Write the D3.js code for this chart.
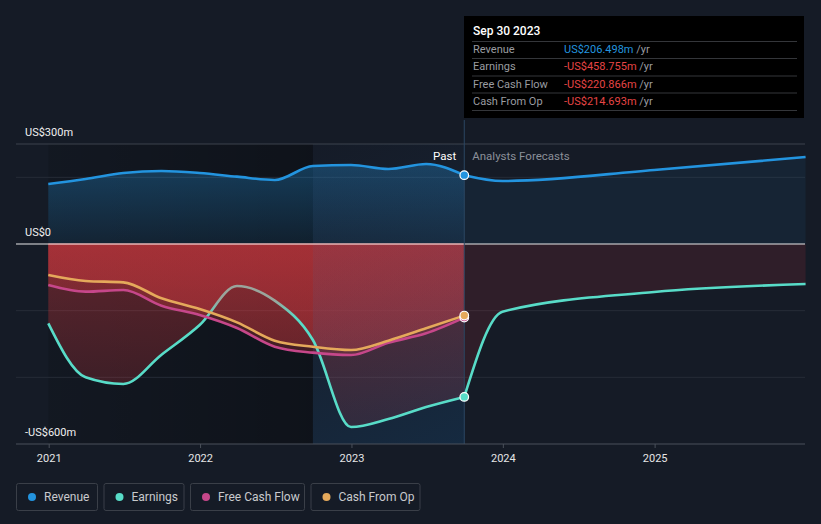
<!DOCTYPE html>
<html><head><meta charset="utf-8">
<script src="https://cdn.jsdelivr.net/npm/d3@7"></script>
<style>
html,body{margin:0;padding:0;background:#151b26;}
svg{display:block;font-family:Roboto,"Noto Sans",sans-serif;}
</style></head>
<body>
<svg id="c" width="821" height="524"></svg>
<script>
// ---- data ----
const pastDates = ["2020-12-31","2021-03-31","2021-06-30","2021-09-30","2021-12-31","2022-03-31","2022-06-30","2022-09-30","2022-12-31","2023-03-31","2023-06-30","2023-09-30"];
const revenuePast  = [180, 195, 213, 219, 213, 202, 192, 234, 237, 225, 240, 206.498];
const earningsPast = [-238, -400, -420, -332, -243, -126, -170, -288, -549, -525, -489, -458.755];
const fcfPast      = [-123, -143, -138, -185, -213, -252, -308, -326, -333, -296, -268, -220.866];
const cfoPast      = [-93, -111, -115, -163, -195, -235, -290, -308, -318, -290, -253, -214.693];
const fcDates = ["2023-09-30","2023-12-31","2024-12-31","2025-12-31"];
const revenueFc  = [206.498, 189, 222, 261];
const earningsFc = [-458.755, -203, -144, -120];
const yTickLabels = [{v:300,t:"US$300m"},{v:0,t:"US$0"},{v:-600,t:"-US$600m"}];
const gridValues = [300, 200, -200, -400];
const xTickYears = [2021, 2022, 2023, 2024, 2025];
const legendItems = [{n:"Revenue",c:"#2394df"},{n:"Earnings",c:"#58dcc8"},{n:"Free Cash Flow",c:"#c6478a"},{n:"Cash From Op",c:"#e5a95b"}];
const tooltipRows = [
  {l:"Revenue", v:"US$206.498m", c:"#2394df"},
  {l:"Earnings", v:"-US$458.755m", c:"#e64545"},
  {l:"Free Cash Flow", v:"-US$220.866m", c:"#e64545"},
  {l:"Cash From Op", v:"-US$214.693m", c:"#e64545"}
];
const highlightStart = "2022-09-30";
const nowDate = "2023-09-30";

// ---- setup ----
const parse = d3.timeParse("%Y-%m-%d");
const svg = d3.select("#c");
const L = 16, R = 805, T = 144, B = 444;
const x = d3.scaleTime().domain([new Date(2021,0,1), new Date(2026,0,1)]).range([48.7, 806]);
const y = d3.scaleLinear().domain([-600, 300]).range([B, T]);
const pd = pastDates.map(parse), fd = fcDates.map(parse);
const xNow = x(parse(nowDate)), xHi = x(parse(highlightStart)), x0 = x(pd[0]);

const defs = svg.append("defs");
function lg(id, x1,y1,x2,y2, stops){
  const g = defs.append("linearGradient").attr("id",id).attr("gradientUnits","userSpaceOnUse")
    .attr("x1",x1).attr("y1",y1).attr("x2",x2).attr("y2",y2);
  stops.forEach(s=>g.append("stop").attr("offset",s[0]).attr("stop-color",s[1]).attr("stop-opacity",s[2]));
}
lg("pastBg", x0,0,xHi,0, [[0,"#000",0.12],[1,"#000",0.32]]);
lg("band", xHi,T,xNow,B, [[0,"#3a5a80",0.05],[1,"#1e6aa8",0.22]]);
lg("redA", 0,y(0),0,B, [[0,"#c8373d",0.42],[1,"#c8373d",0.16]]);
lg("revA", 0,y(240),0,y(0), [[0,"#2394df",0.32],[1,"#2394df",0.1]]);
lg("earnStroke", 0,300,0,318, [[0,"#9aa59c",1],[1,"#58dcc8",1]]);

// backgrounds
svg.append("rect").attr("x",x0).attr("y",T).attr("width",xHi-x0).attr("height",B-T).attr("fill","url(#pastBg)");
svg.append("rect").attr("x",xHi).attr("y",T).attr("width",xNow-xHi).attr("height",B-T).attr("fill","#000").attr("opacity",0.08);

// gridlines
gridValues.forEach(v=>{
  svg.append("line").attr("x1",L).attr("x2",R).attr("y1",y(v)).attr("y2",y(v))
    .attr("stroke", v===300 ? "#3d424c" : "#262c37").attr("stroke-width",1);
});

const curve = d3.curveMonotoneX;
const areaPast = (vals)=> d3.area().x((d,i)=>x(pd[i])).y0(y(0)).y1(d=>y(d)).curve(curve)(vals);
const areaFc = (vals)=> d3.area().x((d,i)=>x(fd[i])).y0(y(0)).y1(d=>y(d)).curve(curve)(vals);
const linePast = (vals)=> d3.line().x((d,i)=>x(pd[i])).y(d=>y(d)).curve(curve)(vals);
const lineFc = (vals)=> d3.line().x((d,i)=>x(fd[i])).y(d=>y(d)).curve(curve)(vals);

// areas
svg.append("path").attr("d",areaPast(revenuePast)).attr("fill","url(#revA)");
svg.append("path").attr("d",areaFc(revenueFc)).attr("fill","#2394df").attr("opacity",0.08);
[earningsPast, fcfPast, cfoPast].forEach(s=>{
  svg.append("path").attr("d",areaPast(s)).attr("fill","url(#redA)");
});
svg.append("path").attr("d",areaFc(earningsFc)).attr("fill","#c8373d").attr("opacity",0.15);

// highlight band
svg.append("rect").attr("x",xHi).attr("y",T).attr("width",xNow-xHi).attr("height",B-T).attr("fill","url(#band)");
svg.append("rect").attr("x",xHi).attr("y",T).attr("width",xNow-xHi).attr("height",y(0)-T-60).attr("fill","#fff").attr("opacity",0.0);

// zero line
svg.append("line").attr("x1",L).attr("x2",R).attr("y1",y(0)).attr("y2",y(0)).attr("stroke","#e8e8e8").attr("stroke-width",1.2);
svg.append("line").attr("x1",x0).attr("x2",xNow).attr("y1",y(0)).attr("y2",y(0)).attr("stroke","#e89a9a").attr("stroke-width",1.2);

// now line
svg.append("line").attr("x1",xNow).attr("x2",xNow).attr("y1",120).attr("y2",B).attr("stroke","#2b4763").attr("stroke-width",1);

// lines
const lw = 2.6;
svg.append("path").attr("d",linePast(revenuePast)).attr("fill","none").attr("stroke","#2394df").attr("stroke-width",lw);
svg.append("path").attr("d",lineFc(revenueFc)).attr("fill","none").attr("stroke","#2394df").attr("stroke-width",lw);
svg.append("path").attr("d",linePast(earningsPast)).attr("fill","none").attr("stroke","url(#earnStroke)").attr("stroke-width",lw);
svg.append("path").attr("d",lineFc(earningsFc)).attr("fill","none").attr("stroke","#58dcc8").attr("stroke-width",lw);
svg.append("path").attr("d",linePast(fcfPast)).attr("fill","none").attr("stroke","#c6478a").attr("stroke-width",lw);
svg.append("path").attr("d",linePast(cfoPast)).attr("fill","none").attr("stroke","#e5a95b").attr("stroke-width",lw);

// dots
const last = pastDates.length-1;
[[fcfPast[last],"#c6478a"],[cfoPast[last],"#e5a95b"],[earningsPast[last],"#58dcc8"],[revenuePast[last],"#2394df"]].forEach(([v,c])=>{
  svg.append("circle").attr("cx",xNow).attr("cy",y(v)).attr("r",4.3).attr("fill",c).attr("stroke","#fff").attr("stroke-width",1.2);
});

// past / forecast labels
svg.append("text").attr("x",xNow-8).attr("y",160).attr("text-anchor","end").attr("fill","#fff").attr("font-size",11.5).text("Past");
svg.append("text").attr("x",xNow+8).attr("y",160).attr("fill","#8b9099").attr("font-size",11.5).text("Analysts Forecasts");

// y labels
yTickLabels.forEach(d=>{
  svg.append("text").attr("x",25).attr("y",y(d.v)-8).attr("fill","#f0f0f0").attr("font-size",11).text(d.t);
});

// x axis
svg.append("line").attr("x1",L).attr("x2",R).attr("y1",B).attr("y2",B).attr("stroke","#4a505a").attr("stroke-width",1);
const xAxis = d3.axisBottom(x).tickValues(xTickYears.map(yr=>new Date(yr,0,1))).tickFormat(d3.timeFormat("%Y")).tickSize(4).tickPadding(6);
const ax = svg.append("g").attr("transform",`translate(0,${B})`).call(xAxis);
ax.select(".domain").remove();
ax.selectAll(".tick line").attr("stroke","#4a505a");
ax.selectAll(".tick text").attr("fill","#e6e6e6").attr("font-size",11).attr("font-family","Roboto,sans-serif");

// tooltip
const tt = svg.append("g");
tt.append("rect").attr("x",464).attr("y",16).attr("width",340).attr("height",102).attr("fill","#000");
tt.append("text").attr("x",473).attr("y",35).attr("fill","#fff").attr("font-size",12).attr("font-weight",500).text("Sep 30 2023");
[41.5,58.5,76,93,110.5].forEach(ly=>tt.append("line").attr("x1",472).attr("x2",797).attr("y1",ly).attr("y2",ly).attr("stroke","#34363a"));
tooltipRows.forEach((r,i)=>{
  const by = 53 + i*17.4;
  tt.append("text").attr("x",473).attr("y",by).attr("fill","#9a9ca0").attr("font-size",11).text(r.l);
  const t = tt.append("text").attr("x",564).attr("y",by).attr("font-size",11);
  t.append("tspan").attr("fill",r.c).text(r.v);
  t.append("tspan").attr("fill","#9a9ca0").text(" /yr");
});

// legend
let lx = 16;
const widths = [82, 81, 115, 110];
legendItems.forEach((d,i)=>{
  const g = svg.append("g").attr("transform",`translate(${lx},483)`);
  g.append("rect").attr("x",0.5).attr("y",0.5).attr("width",widths[i]-1).attr("height",27).attr("rx",2).attr("fill","none").attr("stroke","#3a3f48");
  g.append("circle").attr("cx",16).attr("cy",14).attr("r",4).attr("fill",d.c);
  g.append("text").attr("x",28).attr("y",18).attr("fill","#c8cacd").attr("font-size",12).text(d.n);
  lx += widths[i] + 5.5;
});
</script>
</body></html>
